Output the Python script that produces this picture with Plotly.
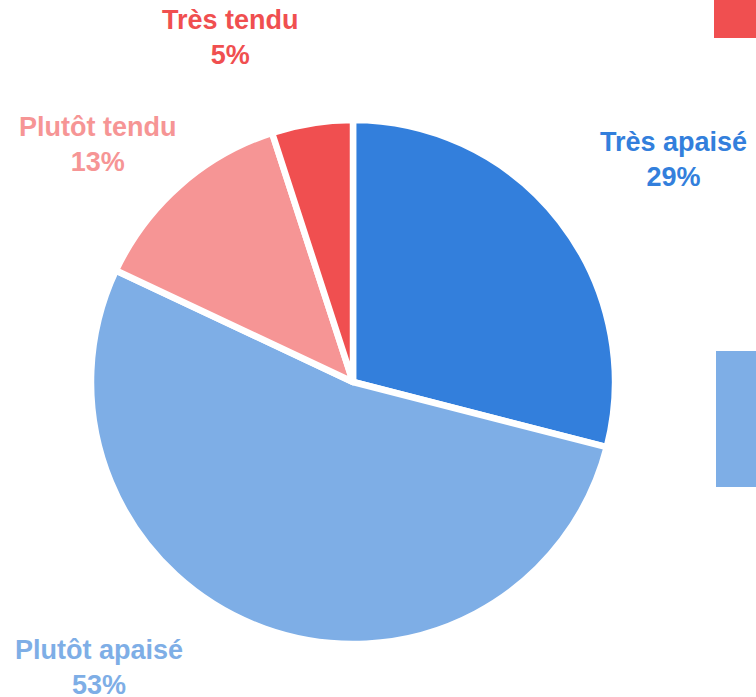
import plotly.graph_objects as go

# Répartition du climat perçu
labels = ["Très apaisé", "Plutôt apaisé", "Plutôt tendu", "Très tendu"]
values = [29, 53, 13, 5]
colors = ["#337fdc", "#7eaee6", "#f69595", "#f04f50"]

W, H = 756, 697
cx, cy, r = 353, 382, 262  # pie centre and radius in pixels

fig = go.Figure(go.Pie(
    labels=labels,
    values=values,
    sort=False,
    direction="clockwise",
    rotation=0,
    marker=dict(colors=colors, line=dict(color="white", width=6.5)),
    textinfo="none",
    hoverinfo="label+percent",
    showlegend=False,
    domain=dict(x=[(cx - r) / W, (cx + r) / W],
                y=[(H - cy - r) / H, (H - cy + r) / H]),
))

# label anchors (pixel centres of each two-line label)
label_pos = [(673, 160), (99, 667), (97, 145), (230, 37)]
total = sum(values)
for lab, val, col, (px, py) in zip(labels, values, colors, label_pos):
    fig.add_annotation(
        x=px / W, y=1 - py / H, xref="paper", yref="paper",
        text=f"<b>{lab}<br>{round(100 * val / total)}%</b>",
        showarrow=False, xanchor="center", yanchor="middle",
        font=dict(family="Liberation Sans, Arial, sans-serif", size=27, color=col),
        align="center",
    )

# colour swatches at the right edge
fig.add_shape(type="rect", xref="paper", yref="paper",
              x0=714 / W, x1=1, y0=1 - 38 / H, y1=1,
              fillcolor=colors[3], line_width=0)
fig.add_shape(type="rect", xref="paper", yref="paper",
              x0=716 / W, x1=1, y0=1 - 487 / H, y1=1 - 351 / H,
              fillcolor=colors[1], line_width=0)

fig.update_layout(
    width=W, height=H,
    margin=dict(l=0, r=0, t=0, b=0),
    paper_bgcolor="white", plot_bgcolor="white",
)

fig.write_html("out.html")
